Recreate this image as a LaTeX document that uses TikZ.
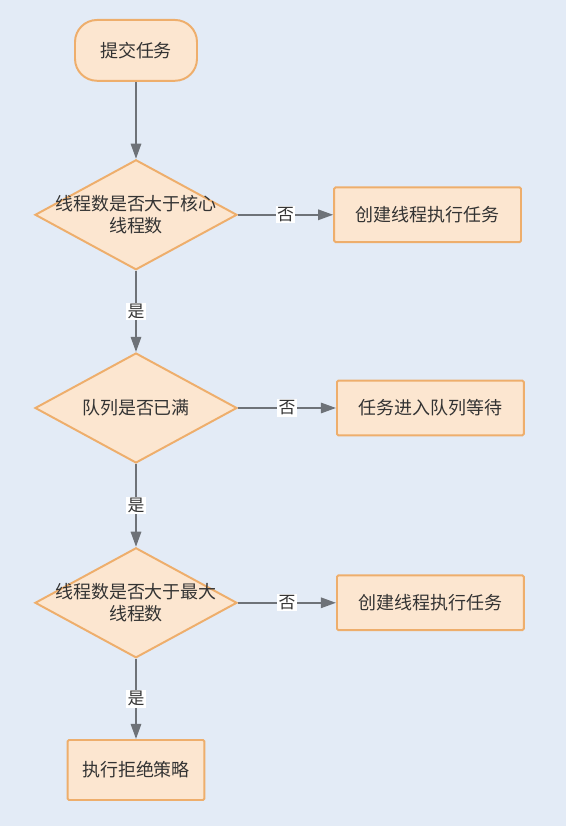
\documentclass[tikz,border=0pt]{standalone}
\usepackage{fontspec}
\setmainfont{Noto Sans CJK SC}
\usetikzlibrary{shapes.geometric,arrows.meta}
\definecolor{bgblue}{HTML}{E3EBF6}
\definecolor{peach}{HTML}{FCE6D0}
\definecolor{rim}{HTML}{EEAE6C}
\definecolor{flowgray}{HTML}{6E7278}
\definecolor{txt}{HTML}{333333}

\begin{document}
\begin{tikzpicture}
    [>={Triangle[length=3.8mm,width=2.6mm]},
     font=\fontsize{12.8}{15.4}\selectfont,
     terminal/.style={draw=rim,fill=peach,line width=1.4pt,rounded corners=5.5mm,minimum width=3.05cm,minimum height=1.52cm,text=txt},
     process/.style={draw=rim,fill=peach,line width=1.4pt,rounded corners=1pt,minimum width=4.67cm,minimum height=1.37cm,text=txt},
     decision/.style={diamond,draw=rim,fill=peach,line width=1.4pt,minimum width=5.05cm,minimum height=2.75cm,inner sep=0pt},
     caption/.style={align=center,text=txt},
     flow/.style={draw=flowgray,line width=1.4pt,->},
     tag/.style={fill=white,inner sep=1pt,font=\fontsize{12}{13}\selectfont,text=txt}]

    \fill[bgblue] (0,0) rectangle (14.15,20.65);

    \node[terminal] (start) at (3.4,19.39) {提交任务};

    \node[decision] (d1) at (3.4,15.28) {};
    \node[caption] (d1t) at (d1) {线程数是否大于核心\\线程数};
    \node[process] (b1) at (10.69,15.28) {创建线程执行任务};

    \node[decision] (d2) at (3.4,10.45) {};
    \node[caption] (d2t) at (d2) {队列是否已满};
    \node[process] (b2) at (10.76,10.45) {任务进入队列等待};

    \node[decision] (d3) at (3.4,5.58) {};
    \node[caption] (d3t) at (d3) {线程数是否大于最大\\线程数};
    \node[process] (b3) at (10.76,5.58) {创建线程执行任务};

    \node[process,minimum width=3.42cm,minimum height=1.5cm] (b4) at (3.4,1.4) {执行拒绝策略};

    \draw[flow] (start) -- (d1);
    \draw[flow] (d1) -- node[tag] {否} (b1);
    \draw[flow] (d1) -- node[tag] {是} (d2);
    \draw[flow] (d2) -- node[tag] {否} (b2);
    \draw[flow] (d2) -- node[tag] {是} (d3);
    \draw[flow] (d3) -- node[tag] {否} (b3);
    \draw[flow] (d3) -- node[tag] {是} (b4);

\end{tikzpicture}
\end{document}
